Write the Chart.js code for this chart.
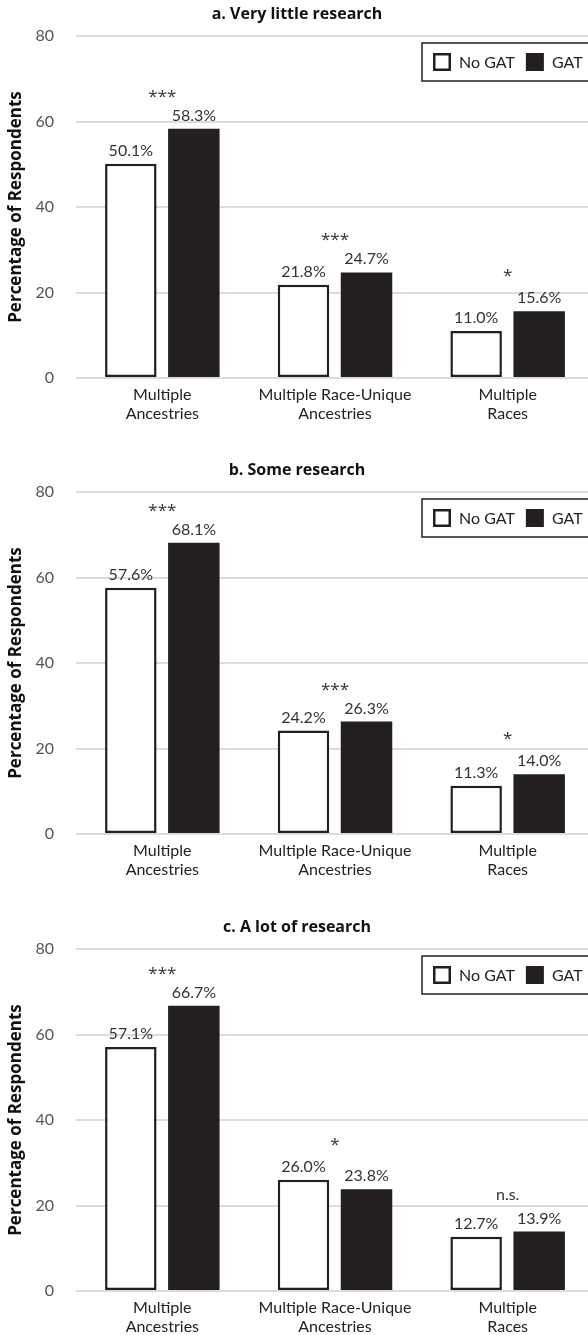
<!DOCTYPE html>
<html>
<head>
<meta charset="utf-8">
<script src="https://cdn.jsdelivr.net/npm/chart.js@4.4.1/dist/chart.umd.min.js"></script>
<style>
  html, body { margin: 0; padding: 0; background: #fff; overflow: hidden; }
  .panel { position: absolute; left: 0; width: 600px; height: 456px; }
  canvas { display: block; }
</style>
</head>
<body>
<div class="panel" style="top:0px"><canvas id="chartA" width="600" height="456"></canvas></div>
<div class="panel" style="top:456px"><canvas id="chartB" width="600" height="456"></canvas></div>
<div class="panel" style="top:913px"><canvas id="chartC" width="600" height="456"></canvas></div>
<script>
// Categories shared by all three panels
const categories = [
  ["Multiple", "Ancestries"],
  ["Multiple Race-Unique", "Ancestries"],
  ["Multiple", "Races"]
];
const seriesNames = ["No GAT", "GAT"];
const yTicks = [0, 20, 40, 60, 80];

// a. Very little research
const titleA = "a. Very little research";
const noGatA = [50.1, 21.8, 11.0];
const gatA = [58.3, 24.7, 15.6];
const sigA = ["***", "***", "*"];

// b. Some research
const titleB = "b. Some research";
const noGatB = [57.6, 24.2, 11.3];
const gatB = [68.1, 26.3, 14.0];
const sigB = ["***", "***", "*"];

// c. A lot of research
const titleC = "c. A lot of research";
const noGatC = [57.1, 26.0, 12.7];
const gatC = [66.7, 23.8, 13.9];
const sigC = ["***", "*", "n.s."];

const INK = "#231f20";
const FONT = "Lato, 'Open Sans', sans-serif";
const BOLD = "'Open Sans', Lato, sans-serif";

// Panel title, value labels, significance marks and boxed legend
const annotate = {
  id: "annotate",
  afterDatasetsDraw(chart, args, opts) {
    const ctx = chart.ctx;
    const area = chart.chartArea;
    ctx.save();

    // title
    ctx.fillStyle = "#111";
    ctx.font = "bold 16px " + BOLD;
    ctx.textAlign = "center";
    ctx.textBaseline = "middle";
    ctx.fillText(opts.title, 297, 14);

    // value labels above each bar
    ctx.font = "16px " + FONT;
    ctx.fillStyle = "#333";
    ctx.textBaseline = "alphabetic";
    chart.data.datasets.forEach((ds, di) => {
      chart.getDatasetMeta(di).data.forEach((bar, i) => {
        ctx.fillText(ds.data[i].toFixed(1) + "%", bar.x, bar.y - 8);
      });
    });

    // significance marks centred over each category pair
    const m0 = chart.getDatasetMeta(0).data;
    const m1 = chart.getDatasetMeta(1).data;
    opts.sig.forEach((s, i) => {
      const top = Math.min(m0[i].y, m1[i].y);
      const cx = (m0[i].x + m1[i].x) / 2;
      if (s.startsWith("*")) {
        ctx.font = "17px " + BOLD;
        ctx.fillText(s, cx, top - (s.length === 1 ? 30 : 27));
      } else {
        ctx.font = "16px " + FONT;
        ctx.fillText(s, cx, top - 32);
      }
    });

    // legend box
    const bx = area.right - 172, by = area.top + 7, bh = 38;
    ctx.strokeStyle = INK;
    ctx.lineWidth = 1.5;
    ctx.strokeRect(bx, by, 200, bh);
    const cy = by + bh / 2;
    let x = bx + 11;
    ctx.font = "16px " + FONT;
    ctx.fillStyle = "#222";
    ctx.textAlign = "left";
    ctx.textBaseline = "middle";
    chart.data.datasets.forEach((ds, di) => {
      if (di === 0) {
        ctx.lineWidth = 2.5;
        ctx.strokeStyle = INK;
        ctx.strokeRect(x + 1.25, cy - 7.75, 15.5, 15.5);
      } else {
        ctx.fillStyle = INK;
        ctx.fillRect(x, cy - 9, 18, 18);
        ctx.fillStyle = "#222";
      }
      x += 26;
      ctx.fillText(ds.label, x, cy + 1);
      x += ctx.measureText(ds.label).width + 11;
    });
    ctx.restore();
  }
};

function makePanel(id, title, noGat, gat, sig) {
  return new Chart(document.getElementById(id), {
    type: "bar",
    data: {
      labels: categories,
      datasets: [
        {
          label: seriesNames[0], data: noGat,
          backgroundColor: "#ffffff", borderColor: INK, borderWidth: 2.5,
          borderSkipped: false
        },
        {
          label: seriesNames[1], data: gat,
          backgroundColor: INK, borderColor: INK, borderWidth: 0
        }
      ]
    },
    options: {
      responsive: false,
      animation: false,
      devicePixelRatio: 1,
      categoryPercentage: 0.73,
      barPercentage: 0.817,
      layout: { padding: { top: 36, right: 6, left: 0, bottom: 0 } },
      plugins: {
        legend: { display: false },
        tooltip: { enabled: false },
        annotate: { title: title, sig: sig }
      },
      scales: {
        x: {
          grid: { display: false, drawTicks: false },
          border: { display: false },
          ticks: {
            color: "#222", padding: 8, maxRotation: 0, autoSkip: false,
            font: { family: FONT, size: 16, lineHeight: 1.15 }
          },
          afterFit(s) { s.height = 78; }
        },
        y: {
          min: 0, max: 80,
          afterBuildTicks(s) { s.ticks = yTicks.map(v => ({ value: v })); },
          grid: { color: "#dcdcdc", lineWidth: 2, drawTicks: false },
          border: { display: false },
          ticks: {
            color: "#555", padding: 22,
            font: { family: FONT, size: 16 }
          },
          title: {
            display: true, text: "Percentage of Respondents", color: "#111",
            padding: { top: 6, bottom: 0 },
            font: { family: BOLD, size: 17, weight: "bold" }
          },
          afterFit(s) { s.width = 76; }
        }
      }
    },
    plugins: [annotate]
  });
}

makePanel("chartA", titleA, noGatA, gatA, sigA);
makePanel("chartB", titleB, noGatB, gatB, sigB);
makePanel("chartC", titleC, noGatC, gatC, sigC);
</script>
</body>
</html>
